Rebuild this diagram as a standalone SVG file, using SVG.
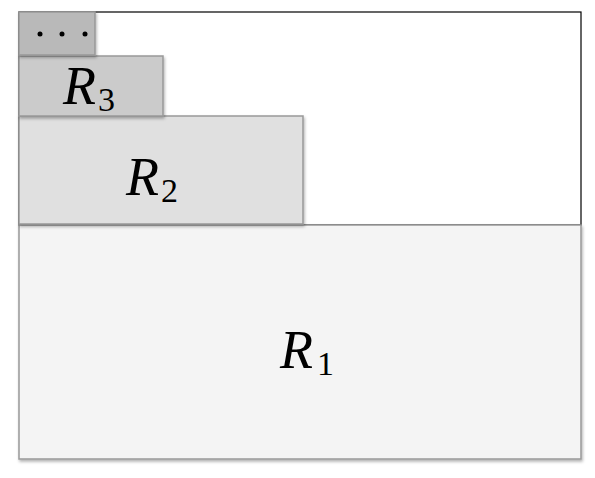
<svg xmlns="http://www.w3.org/2000/svg" width="595" height="478" viewBox="0 0 595 478">
<style>
.box{stroke:#999;stroke-width:1.5}
.lbl{font-family:"Liberation Serif","DejaVu Serif",serif;font-style:italic;font-size:54px;fill:#000}
.sub{font-style:normal;font-size:34px}
</style>
<defs>
<filter id="sh" x="-5%" y="-5%" width="115%" height="120%">
<feDropShadow dx="1" dy="2" stdDeviation="1.5" flood-color="#000" flood-opacity="0.3"/>
</filter>
</defs>
<rect width="595" height="478" fill="#fff"/>
<g id="frame"><rect x="19" y="12" width="562" height="213" fill="#fff" stroke="#000" stroke-width="1.2"/></g>
<g id="R1"><rect class="box" x="19" y="225" width="562" height="234" fill="#f4f4f4" filter="url(#sh)"/>
<text class="lbl" x="280" y="368">R<tspan class="sub" dx="4" dy="7">1</tspan></text></g>
<g id="R2"><rect class="box" x="19" y="116" width="284" height="108" fill="#e0e0e0" filter="url(#sh)"/>
<text class="lbl" x="126" y="195">R<tspan class="sub" dx="2" dy="7">2</tspan></text></g>
<g id="R3"><rect class="box" x="19" y="56" width="144" height="60" fill="#cbcbcb" filter="url(#sh)"/>
<text class="lbl" x="63" y="104">R<tspan class="sub" dx="2" dy="7">3</tspan></text></g>
<g id="dots"><rect class="box" x="19" y="12" width="76" height="43" fill="#b9b9b9" filter="url(#sh)"/>
<circle cx="40" cy="34" r="2.5" fill="#000"/><circle cx="62" cy="34" r="2.5" fill="#000"/><circle cx="85" cy="34" r="2.5" fill="#000"/></g>
<g id="connectors"/>
</svg>
